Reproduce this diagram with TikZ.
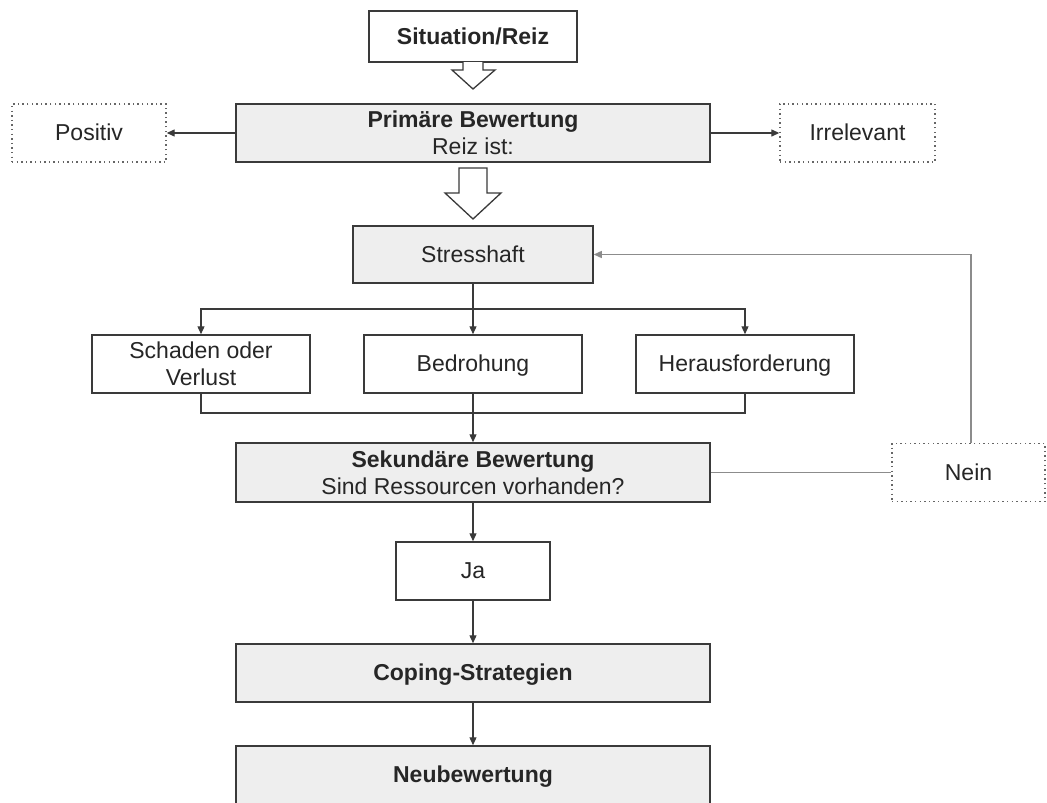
\documentclass[tikz,border=0pt]{standalone}
\usepackage{fontspec}
\setmainfont{Liberation Sans}
\usetikzlibrary{arrows.meta,calc}

\definecolor{edge}{HTML}{3A3A3A}
\definecolor{panel}{HTML}{EEEEEE}
\definecolor{loopgray}{HTML}{8C8C8C}

\tikzset{
  base/.style={draw=edge, line width=1.5pt, inner sep=0pt, align=center,
    font=\fontsize{23}{27}\selectfont, text=black!85},
  oneline/.style={text height=20.8pt, text depth=4.9pt},
  whitebox/.style={base, fill=white},
  graybox/.style={base, fill=panel},
  dotbox/.style={base, draw=black!60, line width=1.4pt,
    dash pattern=on 1.4pt off 3.2pt, fill=white},
  conn/.style={draw=edge, line width=1.3pt, -{Triangle[length=8pt,width=7pt]}},
  plain/.style={draw=edge, line width=1.3pt},
  loopline/.style={draw=loopgray, line width=1.3pt},
  looparrow/.style={loopline, -{Triangle[length=8pt,width=7pt]}},
  hollow/.style={draw=edge, line width=1.3pt, fill=white, line join=miter},
}

\begin{document}
\begin{tikzpicture}[x=1pt, y=-1pt]
\useasboundingbox (0,0) rectangle (1047,803);

% boxes
\node[whitebox, oneline, minimum width=208pt, minimum height=51pt] (sit) at (473,36.5) {\bfseries Situation/Reiz};
\node[graybox, minimum width=474pt, minimum height=58pt] (prim) at (473,133) {\bfseries Primäre Bewertung\\Reiz ist:};
\node[dotbox, oneline, minimum width=154pt, minimum height=58pt] (pos) at (89,133) {Positiv};
\node[dotbox, oneline, minimum width=155pt, minimum height=58pt] (irr) at (857.5,133) {Irrelevant};
\node[graybox, oneline, minimum width=240pt, minimum height=57pt] (stress) at (473,254.5) {Stresshaft};
\node[whitebox, minimum width=218pt, minimum height=58pt] (schaden) at (201,364) {Schaden oder\\Verlust};
\node[whitebox, oneline, minimum width=218pt, minimum height=58pt] (bedr) at (473,364) {Bedrohung};
\node[whitebox, oneline, minimum width=218pt, minimum height=58pt] (hera) at (745,364) {Herausforderung};
\node[graybox, minimum width=474pt, minimum height=59pt] (sek) at (473,472.5) {\bfseries Sekundäre Bewertung\\Sind Ressourcen vorhanden?};
\node[dotbox, oneline, minimum width=153pt, minimum height=58pt] (nein) at (968.5,472.5) {Nein};
\node[whitebox, oneline, minimum width=154pt, minimum height=58pt] (ja) at (473,571) {Ja};
\node[graybox, oneline, minimum width=474pt, minimum height=58pt] (coping) at (473,673) {\bfseries Coping-Strategien};
\node[graybox, oneline, minimum width=474pt, minimum height=58pt] (neu) at (473,775) {\bfseries Neubewertung};

% hollow block arrows
\draw[hollow] (463,62) -- (463,70) -- (452,70) -- (473,89) -- (495,70) -- (483,70) -- (483,62);
\draw[hollow] (459,168) -- (487,168) -- (487,193) -- (501,193) -- (473,219) -- (445,193) -- (459,193) -- cycle;

% primary appraisal outcomes
\draw[conn] (prim.west) -- (pos.east);
\draw[conn] (prim.east) -- (irr.west);

% split into the three kinds of stress
\coordinate (split) at (473,309);
\coordinate (merge) at (473,413);
\draw[conn] (stress.south) -- (bedr.north);
\draw[conn] (split) -| (schaden.north);
\draw[conn] (split) -| (hera.north);
\draw[plain] (schaden.south) |- (merge) -| (hera.south);
\draw[conn] (bedr.south) -- (sek.north);

% secondary appraisal
\draw[conn] (sek.south) -- (ja.north);
\draw[conn] (ja.south) -- (coping.north);
\draw[conn] (coping.south) -- (neu.north);

% feedback loop
\draw[loopline] (sek.east) -- (nein.west);
\draw[looparrow] ([xshift=2.5pt]nein.north) |- (stress.east);
\end{tikzpicture}
\end{document}
